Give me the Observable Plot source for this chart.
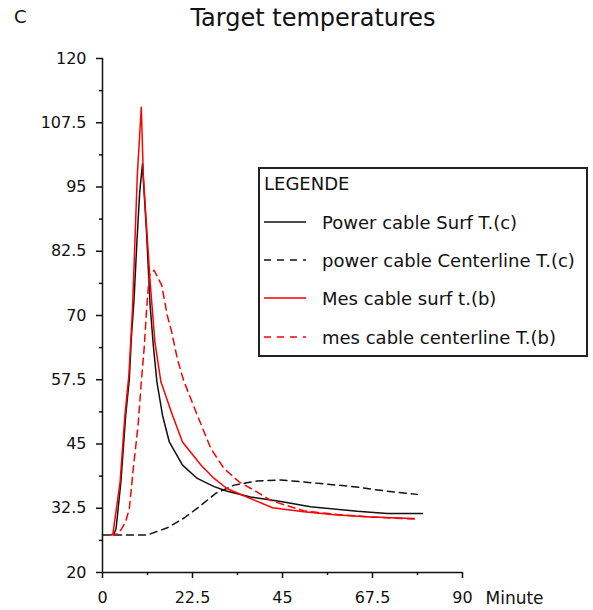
<!DOCTYPE html>
<html><head><meta charset="utf-8">
<script src="https://cdn.jsdelivr.net/npm/d3@7"></script>
<script src="https://cdn.jsdelivr.net/npm/@observablehq/plot@0.6"></script>
<style>
body{margin:0;background:#fff;font-family:"DejaVu Sans",Arial,sans-serif;color:#111;}
#wrap{position:relative;width:593px;height:610px;overflow:hidden;}
#hdr{position:relative;height:40px;}
#panel{position:absolute;left:14px;top:6px;font-size:18px;}
#title{position:absolute;left:0;width:626px;text-align:center;top:4px;font-size:24px;}
#legend{position:absolute;left:258px;top:167px;width:326px;height:186px;border:2px solid #222;background:#fff;}
.row{position:absolute;left:3px;height:22px;display:flex;align-items:center;font-size:18px;white-space:nowrap;}
.row svg{width:44px;height:10px;margin-right:15px;}
#chart svg{display:block;}
</style></head>
<body>
<div id="wrap">
  <div id="hdr"><div id="panel">C</div><div id="title">Target temperatures</div></div>
  <div id="chart"></div>
  <div id="legend"></div>
</div>
<script>
// ---- data ----
const xDomain = [0, 90];
const yDomain = [20, 120];
const xTicks = [0, 22.5, 45, 67.5, 90];
const xMinor = [11.25, 33.75, 56.25, 78.75];
const yTicks = [20, 32.5, 45, 57.5, 70, 82.5, 95, 107.5, 120];
const yMinor = [26.25, 38.75, 51.25, 63.75, 76.25, 88.75, 101.25, 113.75];
const xLabel = "Minute";

const seriesNames = ["Power cable Surf T.(c)", "power cable Centerline T.(c)", "Mes cable surf t.(b)", "mes cable centerline T.(b)"];

const powerSurfTime = [2.8, 3.4, 4.6, 5.2, 5.8, 6.7, 7.2, 7.9, 8.6, 9.3, 10.0, 10.4, 11.0, 11.9, 12.7, 13.6, 15, 16.7, 20, 23.7, 27.9, 31.2, 37, 44.6, 52, 63.7, 71.2, 80];
const powerSurf     = [27.3, 28.6, 37.6, 44.1, 50.6, 57.5, 65.5, 73.3, 84.3, 94, 99.5, 94, 86.3, 72, 64.2, 57.1, 50.6, 45.4, 40.9, 38.3, 36.7, 35.8, 34.7, 33.8, 32.8, 31.9, 31.5, 31.5];

const powerCenterTime = [0, 11.2, 16.2, 20.4, 24.2, 28.3, 32.9, 38.7, 44.6, 54.6, 62.8, 71.2, 78.7];
const powerCenter     = [27.3, 27.3, 28.7, 30.6, 32.8, 35.4, 37.0, 37.8, 38.0, 37.3, 36.7, 35.8, 35.2];

const mesSurfTime = [2, 2.6, 4.4, 5.0, 5.6, 6.6, 7.5, 8.1, 8.7, 9.7, 10.2, 11.0, 11.9, 13.1, 14.6, 17.5, 20, 24.6, 27.9, 31.2, 37, 42.5, 50.3, 58.7, 67, 77.9];
const mesSurf     = [27.3, 27.5, 37.6, 44.1, 50.6, 58.4, 71.3, 84.3, 97.3, 110.5, 97.3, 87.5, 76.6, 64.8, 57.1, 50.6, 45.4, 40.9, 38.3, 36.3, 34.4, 32.6, 31.8, 31.2, 30.8, 30.5];

const mesCenterTime = [2, 4, 5.8, 6.7, 7.7, 8.9, 9.7, 10.4, 11.1, 11.7, 12.9, 14.8, 16.2, 17.3, 18.7, 20.3, 23.7, 27.1, 30.4, 34.2, 37.9, 42.1, 50.3, 58.7, 67, 77.9];
const mesCenter     = [27.3, 27.5, 29.9, 32.4, 40.2, 48.7, 57.1, 63.5, 72, 77.8, 78.8, 75.9, 70, 66.8, 61.6, 57.3, 50.6, 44.1, 40.2, 37.6, 36.0, 34.0, 32.0, 31.3, 30.8, 30.4];

const seriesColors = ["#111111", "#111111", "#ff0000", "#ff0000"];
const seriesDash = [null, "7,5", null, "7,5"];

// ---- build rows ----
function rows(times, vals, name) { return times.map((t, i) => ({t, v: vals[i], name})); }
const data = [
  rows(powerSurfTime, powerSurf, seriesNames[0]),
  rows(powerCenterTime, powerCenter, seriesNames[1]),
  rows(mesSurfTime, mesSurf, seriesNames[2]),
  rows(mesCenterTime, mesCenter, seriesNames[3])
];

const font = '"DejaVu Sans", Arial, sans-serif';
const fmt = d => String(d);
const lineMarks = data.map((d, i) => Plot.line(d, {
  x: "t", y: "v", stroke: seriesColors[i], strokeWidth: 1.5,
  ...(seriesDash[i] ? {strokeDasharray: seriesDash[i]} : {})
}));

const chart = Plot.plot({
  width: 593, height: 570,
  marginTop: 18, marginBottom: 38, marginLeft: 102, marginRight: 131,
  x: {domain: xDomain},
  y: {domain: yDomain},
  style: {fontFamily: font, fontSize: "16px", color: "#111", background: "transparent"},
  marks: [
    Plot.axisY(yTicks, {tickSize: 6, tickPadding: 10, tickFormat: fmt, label: null, stroke: "#111", strokeWidth: 1.5, fontSize: 16}),
    Plot.axisY(yMinor, {tickSize: 3, tickFormat: () => "", label: null, stroke: "#111", strokeWidth: 1.5}),
    Plot.axisX(xTicks, {tickSize: 6, tickPadding: 13, tickFormat: fmt, label: null, stroke: "#111", strokeWidth: 1.5, fontSize: 16}),
    Plot.axisX(xMinor, {tickSize: 3, tickFormat: () => "", label: null, stroke: "#111", strokeWidth: 1.5}),
    Plot.ruleX([xDomain[0]], {y1: yDomain[0], y2: yDomain[1], stroke: "#111", strokeWidth: 1.5}),
    Plot.ruleY([yDomain[0]], {x1: xDomain[0], x2: xDomain[1], stroke: "#111", strokeWidth: 1.5}),
    ...lineMarks,
    Plot.text([xLabel], {x: xDomain[1], y: yDomain[0], text: d => d, dx: 23, dy: 26, textAnchor: "start", fontSize: 17, fill: "#111"})
  ]
});
document.getElementById("chart").appendChild(chart);

// ---- legend ----
const legend = document.getElementById("legend");
const rowCenters = [14, 53, 91, 129, 168];
const head = document.createElement("div");
head.className = "row"; head.style.top = (rowCenters[0] - 11) + "px"; head.style.left = "4px";
head.textContent = "LEGENDE";
legend.appendChild(head);
seriesNames.forEach((name, i) => {
  const r = document.createElement("div");
  r.className = "row"; r.style.top = (rowCenters[i + 1] - 11) + "px";
  const dash = seriesDash[i] ? `stroke-dasharray="7,6"` : "";
  r.innerHTML = `<svg viewBox="0 0 44 10"><line x1="1" y1="5" x2="43" y2="5" stroke="${seriesColors[i]}" stroke-width="1.5" ${dash}/></svg><span>${name}</span>`;
  legend.appendChild(r);
});
</script>
</body></html>
